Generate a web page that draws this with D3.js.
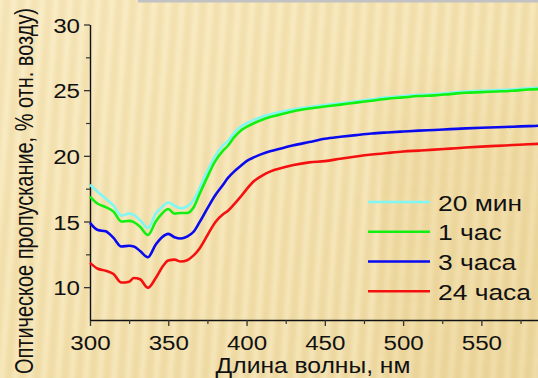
<!DOCTYPE html>
<html>
<head>
<meta charset="utf-8">
<script src="https://cdn.jsdelivr.net/npm/d3@7"></script>
<style>
  html, body { margin: 0; padding: 0; background: #f3e1ad; }
  svg { display: block; }
  text { font-family: "Liberation Sans", Arial, sans-serif; fill: #111; }
</style>
</head>
<body>
<svg id="chart" width="538" height="378"></svg>
<script>
// Wavelength grid, nm
const wavelengths = [300, 305, 310, 315, 320, 325, 328, 332, 337, 342, 346, 350, 354, 358, 362, 366, 370, 375, 380, 385, 388, 392, 396, 400, 405, 410, 415, 420, 430, 440, 450, 460, 470, 480, 490, 500, 510, 520, 530, 540, 550, 560, 570, 580, 590, 600];

// Optical transmittance, % relative to air
const trans20min = [17.8, 17.25, 16.75, 16.2, 15.45, 15.6, 15.5, 15.1, 14.5, 15.6, 16.1, 16.45, 16.2, 16.0, 16.15, 16.6, 17.55, 18.85, 20.0, 20.8, 21.1, 21.75, 22.2, 22.48, 22.75, 22.98, 23.15, 23.3, 23.55, 23.72, 23.87, 24.0, 24.15, 24.3, 24.45, 24.55, 24.65, 24.7, 24.8, 24.9, 24.95, 25.0, 25.05, 25.15, 25.2, 25.25];
const trans1h = [16.9, 16.35, 16.1, 15.75, 15.0, 15.05, 14.95, 14.6, 13.98, 15.0, 15.6, 15.95, 15.6, 15.65, 15.65, 16.05, 17.1, 18.4, 19.6, 20.4, 20.75, 21.4, 21.9, 22.2, 22.5, 22.75, 22.95, 23.1, 23.4, 23.6, 23.75, 23.9, 24.05, 24.2, 24.35, 24.45, 24.55, 24.6, 24.7, 24.8, 24.85, 24.9, 24.95, 25.05, 25.1, 25.15];
const trans3h = [14.9, 14.35, 14.25, 13.75, 13.1, 13.15, 13.1, 12.75, 12.28, 13.25, 13.8, 14.06, 13.8, 13.7, 13.85, 14.2, 14.95, 16.0, 17.0, 17.8, 18.3, 18.8, 19.2, 19.6, 19.9, 20.15, 20.35, 20.5, 20.8, 21.05, 21.3, 21.45, 21.58, 21.7, 21.78, 21.85, 21.92, 21.97, 22.03, 22.09, 22.14, 22.18, 22.22, 22.26, 22.3, 22.33];
const trans24h = [11.85, 11.4, 11.25, 11.0, 10.35, 10.42, 10.7, 10.6, 9.95, 10.7, 11.5, 12.03, 12.1, 11.95, 12.05, 12.4, 12.95, 13.95, 14.95, 15.55, 15.8, 16.3, 16.85, 17.45, 18.1, 18.5, 18.8, 19.0, 19.3, 19.5, 19.6, 19.78, 19.95, 20.1, 20.22, 20.33, 20.4, 20.47, 20.55, 20.63, 20.7, 20.76, 20.82, 20.88, 20.93, 20.97];

const seriesNames = ["20 мин", "1 час", "3 часа", "24 часа"];
const seriesValues = [trans20min, trans1h, trans3h, trans24h];

const xTickValues = [300, 350, 400, 450, 500, 550];
const xMinorValues = [325, 375, 425, 475, 525, 575];
const yTickValues = [10, 15, 20, 25, 30];
const yMinorValues = [12.5, 17.5, 22.5, 27.5];

const xTitle = "Длина волны, нм";
const yTitle = "Оптическое пропускание, % отн. возду)";

// styling
const lineColors = ["#7ff7f4", "#12f012", "#0a0aef", "#f51010"];
const W = 538, H = 378;
const margin = { left: 90, top: 24.5, bottom: 320 };
const glyphStretch = 1.15;

const svg = d3.select("#chart");
const defs = svg.append("defs");

// ---- background: warm paper with soft vertical stripes ----
const base = defs.append("linearGradient").attr("id", "bgBase")
  .attr("x1", 0).attr("y1", 0).attr("x2", 1).attr("y2", 1);
base.append("stop").attr("offset", "0%").attr("stop-color", "#fbecc3");
base.append("stop").attr("offset", "45%").attr("stop-color", "#f6e4b2");
base.append("stop").attr("offset", "100%").attr("stop-color", "#eed89f");

const stripeGrad = defs.append("linearGradient").attr("id", "stripeGrad")
  .attr("x1", 0).attr("y1", 0).attr("x2", 1).attr("y2", 0);
stripeGrad.append("stop").attr("offset", "0%").attr("stop-color", "#fff6d8").attr("stop-opacity", 0.45);
stripeGrad.append("stop").attr("offset", "50%").attr("stop-color", "#d9bd78").attr("stop-opacity", 0.22);
stripeGrad.append("stop").attr("offset", "100%").attr("stop-color", "#fff6d8").attr("stop-opacity", 0.45);

const pat = defs.append("pattern").attr("id", "stripes")
  .attr("patternUnits", "userSpaceOnUse").attr("width", 14).attr("height", 400)
  .attr("patternTransform", "rotate(4)");
pat.append("rect").attr("width", 14).attr("height", 400).attr("fill", "url(#stripeGrad)");

const blur = defs.append("filter").attr("id", "soft").attr("x", "-10%").attr("y", "-10%").attr("width", "120%").attr("height", "120%");
blur.append("feGaussianBlur").attr("stdDeviation", 1.6);

svg.append("rect").attr("width", W).attr("height", H).attr("fill", "url(#bgBase)");
svg.append("rect").attr("x", -20).attr("y", -20).attr("width", W + 40).attr("height", H + 40)
  .attr("fill", "url(#stripes)").attr("filter", "url(#soft)");

// slightly darker zone on the right below the top band
const shade = defs.append("linearGradient").attr("id", "shade")
  .attr("x1", 0).attr("y1", 0).attr("x2", 0).attr("y2", 1);
shade.append("stop").attr("offset", "0%").attr("stop-color", "#e6cc88").attr("stop-opacity", 0);
shade.append("stop").attr("offset", "30%").attr("stop-color", "#e6cc88").attr("stop-opacity", 0.25);
shade.append("stop").attr("offset", "100%").attr("stop-color", "#e6cc88").attr("stop-opacity", 0.2);
svg.append("rect").attr("x", 380).attr("y", 55).attr("width", 160).attr("height", 330)
  .attr("fill", "url(#shade)").attr("filter", "url(#soft)");

// thin grey band along the top
svg.append("rect").attr("x", 138).attr("y", 0).attr("width", W - 138).attr("height", 2.5).attr("fill", "#c2c2c2");

// ---- scales ----
const x = d3.scaleLinear().domain([300, 600]).range([margin.left, margin.left + 300 * 1.5655]);
const y = d3.scaleLinear().domain([7.5, 30]).range([margin.bottom, margin.top]);

// ---- axes ----
const axisColor = "#111";
const xAxis = svg.append("g").attr("transform", `translate(0,${margin.bottom})`)
  .call(d3.axisBottom(x).tickValues(xTickValues).tickSize(6).tickPadding(9).tickSizeOuter(0));
xAxis.select(".domain").attr("stroke", axisColor).attr("stroke-width", 1.4);
xAxis.selectAll(".tick line").attr("stroke", "#333").attr("stroke-width", 1.3);
xAxis.selectAll(".tick text").attr("font-size", 21).attr("fill", "#111")
  .attr("transform", `scale(${glyphStretch},1)`)
  .attr("x", 0).attr("dy", "0.71em")
  .style("font-family", "'Liberation Sans', Arial, sans-serif");
svg.append("g").attr("transform", `translate(0,${margin.bottom})`)
  .call(d3.axisBottom(x).tickValues(xMinorValues).tickSize(4).tickFormat(""))
  .call(g => g.select(".domain").remove())
  .selectAll(".tick line").attr("stroke", "#333").attr("stroke-width", 1.2);

const yAxis = svg.append("g").attr("transform", `translate(${margin.left},0)`)
  .call(d3.axisLeft(y).tickValues(yTickValues).tickSize(6).tickPadding(4).tickSizeOuter(0));
yAxis.select(".domain").attr("stroke", axisColor).attr("stroke-width", 1.4);
yAxis.selectAll(".tick line").attr("stroke", "#333").attr("stroke-width", 1.3);
yAxis.selectAll(".tick text").attr("font-size", 21).attr("fill", "#111")
  .attr("transform", `scale(${glyphStretch},1)`)
  .attr("x", -10 / glyphStretch).attr("dy", "0.36em")
  .style("font-family", "'Liberation Sans', Arial, sans-serif");
svg.append("g").attr("transform", `translate(${margin.left},0)`)
  .call(d3.axisLeft(y).tickValues(yMinorValues).tickSize(4).tickFormat(""))
  .call(g => g.select(".domain").remove())
  .selectAll(".tick line").attr("stroke", "#333").attr("stroke-width", 1.2);

// ---- curves ----
const line = d3.line()
  .x((d, i) => x(wavelengths[i]))
  .y(d => y(d))
  .curve(d3.curveMonotoneX);

svg.append("g").selectAll("path")
  .data(seriesValues)
  .join("path")
  .attr("d", d => line(d))
  .attr("fill", "none")
  .attr("stroke", (d, i) => lineColors[i])
  .attr("stroke-width", 2.6)
  .attr("stroke-linejoin", "round");

// ---- legend ----
const legend = svg.append("g");
const legendY = d3.scalePoint().domain(seriesNames).range([202, 291.3]);
seriesNames.forEach((name, i) => {
  const ly = legendY(name);
  legend.append("line")
    .attr("x1", 368).attr("x2", 430).attr("y1", ly).attr("y2", ly)
    .attr("stroke", lineColors[i]).attr("stroke-width", 2.6);
  legend.append("text")
    .attr("transform", `translate(438,${ly + 8.5}) scale(1.2,1)`)
    .attr("font-size", 22)
    .text(name);
});

// ---- titles ----
svg.append("text")
  .attr("transform", `translate(313,373) scale(1.12,1)`)
  .attr("text-anchor", "middle")
  .attr("font-size", 22)
  .text(xTitle);

svg.append("text")
  .attr("transform", `translate(33,191) rotate(-90) scale(1,1.25)`)
  .attr("text-anchor", "middle")
  .attr("font-size", 20)
  .attr("textLength", 366)
  .attr("lengthAdjust", "spacingAndGlyphs")
  .text(yTitle);
</script>
</body>
</html>
